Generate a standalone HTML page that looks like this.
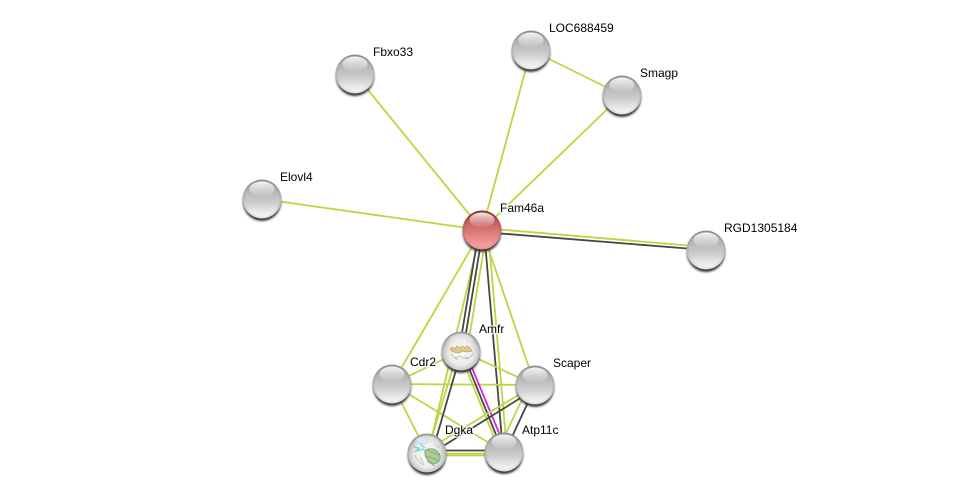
<!DOCTYPE html>
<html>
<head>
<meta charset="utf-8">
<style>
html,body{margin:0;padding:0;background:#fff;width:975px;height:497px;overflow:hidden}
svg{display:block}
text{font-family:"Liberation Sans",sans-serif;font-size:12px;fill:#000;stroke:#fff;stroke-width:3px;stroke-opacity:.75;paint-order:stroke;stroke-linejoin:round}
.g{stroke:#bcd63f;stroke-width:1.8;fill:none}
.d{stroke:#474747;stroke-width:1.8;fill:none}
.m{stroke:#df22df;stroke-width:1.8;fill:none}
</style>
</head>
<body>
<svg width="975" height="497" viewBox="0 0 975 497" xmlns="http://www.w3.org/2000/svg">
<defs>
<filter id="blur" x="-20%" y="-20%" width="140%" height="140%"><feGaussianBlur stdDeviation="1"/></filter>
<linearGradient id="gray" x1="0" y1="0" x2="0" y2="1">
<stop offset="0" stop-color="#9a9a9a"/>
<stop offset="0.3" stop-color="#b6b6b6"/>
<stop offset="0.6" stop-color="#cdcdcd"/>
<stop offset="0.85" stop-color="#ececec"/>
<stop offset="1" stop-color="#f6f6f6"/>
</linearGradient>
<linearGradient id="red" x1="0" y1="0" x2="0" y2="1">
<stop offset="0" stop-color="#8e2a2a"/>
<stop offset="0.3" stop-color="#c65f5f"/>
<stop offset="0.6" stop-color="#e07f7f"/>
<stop offset="0.9" stop-color="#f79c9c"/>
<stop offset="1" stop-color="#f9a6a6"/>
</linearGradient>
<radialGradient id="rim" cx="50%" cy="50%" r="50%">
<stop offset="0.86" stop-color="#000" stop-opacity="0"/>
<stop offset="1" stop-color="#000" stop-opacity="0.12"/>
</radialGradient>
<linearGradient id="hl" x1="0" y1="0" x2="0" y2="1">
<stop offset="0" stop-color="#fff" stop-opacity="0.9"/>
<stop offset="1" stop-color="#fff" stop-opacity="0.03"/>
</linearGradient>
<g id="nodeGray">
<circle cx="0" cy="3" r="19" fill="#333" filter="url(#blur)"/>
<circle r="19.5" fill="url(#gray)"/>
<circle r="19.5" fill="url(#rim)"/>
<ellipse cx="0" cy="-10" rx="12.5" ry="7.5" fill="url(#hl)"/>
</g>
<g id="nodeRed">
<circle cx="0" cy="3" r="19" fill="#333" filter="url(#blur)"/>
<circle r="19.5" fill="url(#red)"/>
<circle r="19.5" fill="url(#rim)"/>
<ellipse cx="0" cy="-10" rx="12.5" ry="7.5" fill="url(#hl)"/>
</g>
<radialGradient id="glass" cx="50%" cy="55%" r="52%">
<stop offset="0" stop-color="#fafafa"/>
<stop offset="0.6" stop-color="#ececec"/>
<stop offset="0.85" stop-color="#c8c8c8"/>
<stop offset="1" stop-color="#999"/>
</radialGradient>
<g id="nodeGlass">
<circle cx="0" cy="3" r="19" fill="#333" filter="url(#blur)"/>
<circle r="19.5" fill="url(#glass)"/>
</g>
</defs>

<!-- outer edges -->
<line class="g" x1="482" y1="230" x2="355" y2="74"/>
<line class="g" x1="482" y1="230" x2="531" y2="50"/>
<line class="g" x1="482" y1="230" x2="622" y2="95"/>
<line class="g" x1="531" y1="50" x2="622" y2="95"/>
<line class="g" x1="482" y1="230" x2="262" y2="199"/>
<line class="g" x1="482" y1="228" x2="706" y2="247"/>
<line class="d" x1="482" y1="232" x2="706" y2="250"/>

<!-- Fam46a to cluster -->
<line class="g" x1="482" y1="230" x2="392" y2="384"/>
<line class="g" x1="481" y1="230" x2="428" y2="453"/>
<line class="d" x1="479" y1="230" x2="459" y2="351"/>
<line class="d" x1="483" y1="230" x2="463" y2="351"/>
<line class="g" x1="487" y1="230" x2="467" y2="351"/>
<line class="d" x1="484" y1="230" x2="503" y2="452"/>
<line class="g" x1="488" y1="230" x2="507" y2="452"/>
<line class="g" x1="482" y1="230" x2="535" y2="385"/>

<!-- cluster edges -->
<line class="g" x1="461" y1="351" x2="392" y2="384"/>
<line class="g" x1="461" y1="351" x2="535" y2="385"/>
<line class="g" x1="392" y1="384" x2="535" y2="385"/>
<line class="g" x1="392" y1="384" x2="427" y2="453"/>
<line class="g" x1="392" y1="384" x2="504" y2="452"/>
<line class="g" x1="458" y1="351" x2="427" y2="453"/>
<line class="d" x1="461.5" y1="351" x2="432" y2="453"/>
<line class="g" x1="459" y1="351" x2="500" y2="452"/>
<line class="d" x1="462" y1="351" x2="503" y2="452"/>
<line class="m" x1="465" y1="351" x2="507" y2="452"/>
<line class="g" x1="535" y1="385" x2="427" y2="450"/>
<line class="d" x1="535" y1="389" x2="427" y2="456"/>
<line class="g" x1="529" y1="385" x2="497" y2="452"/>
<line class="d" x1="536" y1="385" x2="505" y2="452"/>
<line class="d" x1="427" y1="450.5" x2="504" y2="450.5"/>
<line class="g" x1="427" y1="453.7" x2="504" y2="453.7"/>
<line class="g" x1="427" y1="455.5" x2="504" y2="455.5"/>

<!-- nodes -->
<use href="#nodeGray" x="355" y="74"/>
<use href="#nodeGray" x="531" y="50"/>
<use href="#nodeGray" x="622" y="95"/>
<use href="#nodeGray" x="262" y="199"/>
<use href="#nodeGray" x="706" y="250"/>
<use href="#nodeRed" x="482" y="230"/>
<use href="#nodeGray" x="392" y="384"/>
<use href="#nodeGray" x="535" y="385"/>
<use href="#nodeGray" x="504" y="452"/>

<!-- Amfr with structure -->
<use href="#nodeGlass" x="461" y="351"/>
<g fill="none">
<path d="M450 350 l2 -3 l3 2 l2 -3 l3 2 l2 -2 l3 2 l2 -2 l3 2 l2 3 l-5 1 l-4 -1 l-4 2 l-5 -1z" stroke="#c9b071" stroke-width="1" fill="#dcc994"/>
<path d="M451 354 q3 5 7 3 q3 -2 5 1 q4 2 7 -1 q3 -2 4 -5 M455 358 l3 2 M465 356 l3 3" stroke="#a5a595" stroke-width="0.6"/>
</g>
<ellipse cx="461" cy="341" rx="12.5" ry="7.5" fill="url(#hl)" opacity=".6"/>

<!-- Dgka with structure -->
<use href="#nodeGlass" x="427" y="453"/>
<g fill="none">
<path d="M416 440 q5 -4 10 -1 q4 3 -1 5 q-5 1 -9 -4" stroke="#b4c8ea" stroke-width="1" fill="#cfdcf2"/>
<path d="M413 447 l6 1 l-3 3 l8 -2 M420 444 l5 4" stroke="#6cd6c8" stroke-width="1.3"/>
<path d="M425 450 q7 -3 12 1 q5 5 2 10 q-5 5 -9 1 q-6 -5 -5 -12" stroke="#62b872" stroke-width="1" fill="#9bd39b"/>
<path d="M427 450 l12 5 M425 456 l13 4 M427 461 l8 5" stroke="#e0856a" stroke-width="1"/>
<path d="M415 455 q2 6 8 10 M420 457 l4 8 M433 444 l6 4" stroke="#b0b098" stroke-width="0.6"/>
</g>
<ellipse cx="427" cy="443" rx="12.5" ry="7.5" fill="url(#hl)" opacity=".55"/>

<!-- labels -->
<text x="373" y="56">Fbxo33</text>
<text x="549" y="32">LOC688459</text>
<text x="640" y="77">Smagp</text>
<text x="280" y="181">Elovl4</text>
<text x="500" y="212">Fam46a</text>
<text x="724" y="232">RGD1305184</text>
<text x="479" y="333">Amfr</text>
<text x="410" y="366">Cdr2</text>
<text x="553" y="367">Scaper</text>
<text x="445" y="434">Dgka</text>
<text x="522" y="434">Atp11c</text>
</svg>
</body>
</html>
